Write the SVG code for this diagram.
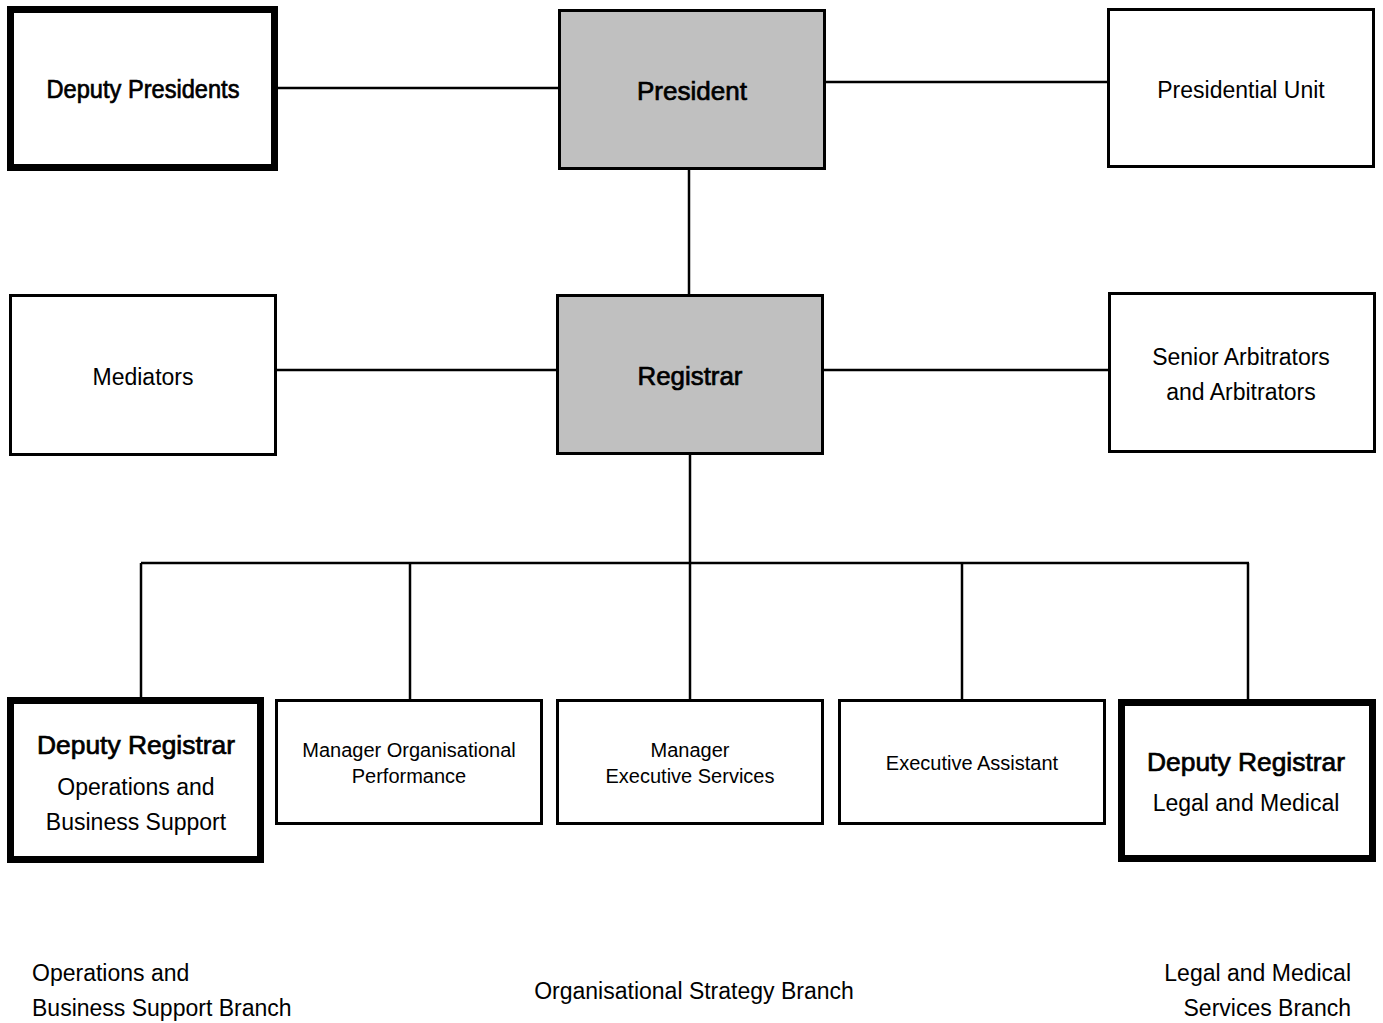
<svg xmlns="http://www.w3.org/2000/svg" width="1383" height="1023" viewBox="0 0 1383 1023">
<style>
.box{fill:#fff;stroke:#000;stroke-width:3}
.thick{fill:#fff;stroke:#000;stroke-width:7}
.grey{fill:#c0c0c0;stroke:#000;stroke-width:3}
.con line{stroke:#000;stroke-width:2.5}
text{font-family:"Liberation Sans",Arial,sans-serif;fill:#000;text-anchor:middle}
.t{font-size:26px;stroke:#000;stroke-width:0.7}
.r{font-size:23px}
.s{font-size:20px}
.lbl{font-size:23px}
</style>
<rect width="1383" height="1023" fill="#fff"/>
<g id="connectors" class="con">
<line x1="278" y1="88" x2="558" y2="88"/>
<line x1="826" y1="82" x2="1107" y2="82"/>
<line x1="689" y1="170" x2="689" y2="294"/>
<line x1="277" y1="370" x2="556" y2="370"/>
<line x1="824" y1="370" x2="1108" y2="370"/>
<line x1="690" y1="455" x2="690" y2="563"/>
<line x1="141" y1="563" x2="1249" y2="563"/>
<line x1="141" y1="563" x2="141" y2="697"/>
<line x1="410" y1="563" x2="410" y2="699"/>
<line x1="690" y1="563" x2="690" y2="699"/>
<line x1="962" y1="563" x2="962" y2="699"/>
<line x1="1248" y1="563" x2="1248" y2="699"/>
</g>
<g id="deputy-presidents">
<rect class="thick" x="10.5" y="9.5" width="264" height="158"/>
<text class="t" x="143" y="98" textLength="193" lengthAdjust="spacingAndGlyphs">Deputy Presidents</text>
</g>
<g id="president">
<rect class="grey" x="559.5" y="10.5" width="265" height="158"/>
<text class="t" x="692" y="100" textLength="110" lengthAdjust="spacingAndGlyphs">President</text>
</g>
<g id="presidential-unit">
<rect class="box" x="1108.5" y="9.5" width="265" height="157"/>
<text class="r" x="1241" y="98">Presidential Unit</text>
</g>
<g id="mediators">
<rect class="box" x="10.5" y="295.5" width="265" height="159"/>
<text class="r" x="143" y="385">Mediators</text>
</g>
<g id="registrar">
<rect class="grey" x="557.5" y="295.5" width="265" height="158"/>
<text class="t" x="690" y="385" textLength="105" lengthAdjust="spacingAndGlyphs">Registrar</text>
</g>
<g id="arbitrators">
<rect class="box" x="1109.5" y="293.5" width="265" height="158"/>
<text class="r" x="1241" y="365">Senior Arbitrators</text>
<text class="r" x="1241" y="400">and Arbitrators</text>
</g>
<g id="deputy-registrar-ops">
<rect class="thick" x="10.5" y="700.5" width="250" height="159"/>
<text class="t" x="136" y="754" textLength="198" lengthAdjust="spacingAndGlyphs">Deputy Registrar</text>
<text class="r" x="136" y="795">Operations and</text>
<text class="r" x="136" y="830">Business Support</text>
</g>
<g id="manager-org-perf">
<rect class="box" x="276.5" y="700.5" width="265" height="123"/>
<text class="s" x="409" y="757">Manager Organisational</text>
<text class="s" x="409" y="783">Performance</text>
</g>
<g id="manager-exec-services">
<rect class="box" x="557.5" y="700.5" width="265" height="123"/>
<text class="s" x="690" y="757">Manager</text>
<text class="s" x="690" y="783">Executive Services</text>
</g>
<g id="executive-assistant">
<rect class="box" x="839.5" y="700.5" width="265" height="123"/>
<text class="s" x="972" y="770">Executive Assistant</text>
</g>
<g id="deputy-registrar-legal">
<rect class="thick" x="1121.5" y="702.5" width="251" height="156"/>
<text class="t" x="1246" y="771" textLength="198" lengthAdjust="spacingAndGlyphs">Deputy Registrar</text>
<text class="r" x="1246" y="811">Legal and Medical</text>
</g>
<g id="branch-labels">
<text class="lbl" x="32" y="981" style="text-anchor:start">Operations and</text>
<text class="lbl" x="32" y="1016" style="text-anchor:start">Business Support Branch</text>
<text class="lbl" x="694" y="999">Organisational Strategy Branch</text>
<text class="lbl" x="1351" y="981" style="text-anchor:end">Legal and Medical</text>
<text class="lbl" x="1351" y="1016" style="text-anchor:end">Services Branch</text>
</g>
</svg>
